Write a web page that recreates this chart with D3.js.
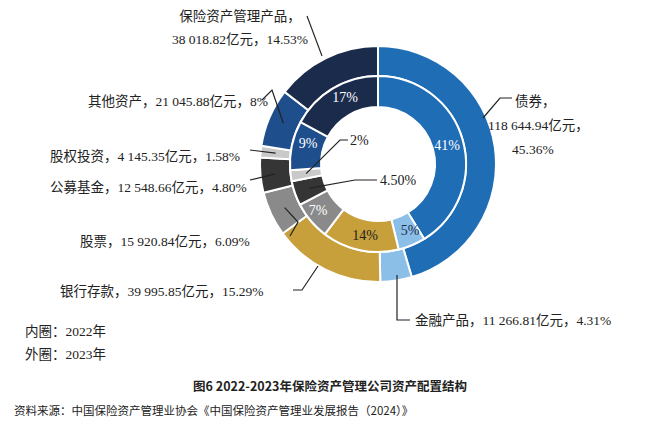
<!DOCTYPE html>
<html><head><meta charset="utf-8">
<script src="https://cdn.jsdelivr.net/npm/d3@7"></script>
<style>body{margin:0;background:#fff}text{font-family:"Liberation Serif","Noto Sans CJK SC",serif}</style>
</head><body><div id="wrapper"></div>
<script>
const categories = ["债券","金融产品","银行存款","股票","公募基金","股权投资","其他资产","保险资产管理产品"];
const outer2023 = [45.36,4.31,15.29,6.09,4.80,1.58,8,14.53];
const outerAmount = ["118 644.94","11 266.81","39 995.85","15 920.84","12 548.66","4 145.35","21 045.88","38 018.82"];
const inner2022 = [41,5,14,7,4.5,2,9,17];
const innerLabels = ["41%","5%","14%","7%","4.50%","2%","9%","17%"];
const colors = ["#1f6db5","#8cbfe8","#c7a03c","#8a8a8b","#353535","#c9c9c9","#1f4e8c","#1a2b4c"];

const W=660,H=435,cx=378,cy=164;
const svg=d3.select("#wrapper").append("svg").attr("width",W).attr("height",H);
const g=svg.append("g").attr("transform",`translate(${cx},${cy})`);
const pie=d3.pie().sort(null).value(d=>d);
const arcO=d3.arc().innerRadius(88).outerRadius(118);
const arcI=d3.arc().innerRadius(57).outerRadius(88);
const po=pie(outer2023), pi=pie(inner2022);
g.selectAll(".o").data(po).join("path").attr("d",arcO).attr("fill",(d,i)=>colors[i]).attr("stroke","#fff").attr("stroke-width",2);
g.selectAll(".i").data(pi).join("path").attr("d",arcI).attr("fill",(d,i)=>colors[i]).attr("stroke","#fff").attr("stroke-width",2);

// inner labels
const innerPos=[[447,150,"#fff"],[410,235,"#1a2b4c"],[365,240,"#222"],[318,215,"#fff"],[380,185,"#222"],[350,145,"#222"],[308,148,"#fff"],[345,102,"#fff"]];
innerPos.forEach((p,i)=>{
  svg.append("text").attr("x",p[0]).attr("y",p[1]).attr("text-anchor",i==4||i==5?"start":"middle")
    .attr("fill",p[2]).attr("font-size",14).text(innerLabels[i]);
});
// leaders for small inner slices
const lineC="#222";
function leader(pts){svg.append("polyline").attr("points",pts.map(p=>p.join(",")).join(" ")).attr("fill","none").attr("stroke",lineC).attr("stroke-width",1.2);}
function at(arcGen,d,k){const c=arcGen.centroid(d);return [cx+c[0]*k,cy+c[1]*k];}
leader([at(arcI,pi[5],1),[340,140],[348,140]]);
leader([at(arcI,pi[4],1),[355,180],[377,180]]);

// outer labels
const fs=13.5;
function txt(x,y,s,anchor){svg.append("text").attr("x",x).attr("y",y).attr("font-size",fs).attr("text-anchor",anchor||"start").attr("fill","#222").text(s);}
txt(240,21,"保险资产管理产品，","middle");
txt(240,44,`${outerAmount[7]}亿元，${outer2023[7]}%`,"middle");
leader([[307,16],[322,56]]);
txt(88,106,`${categories[6]}，${outerAmount[6]}亿元，${outer2023[6]}%`);
leader([[262,100],[272,90],[at(arcO,po[6],1)[0],at(arcO,po[6],1)[1]]]);
txt(50,161,`${categories[5]}，${outerAmount[5]}亿元，${outer2023[5].toFixed(2)}%`);
leader([[250,150],[at(arcO,po[5],1)[0],at(arcO,po[5],1)[1]]]);
txt(50,192,`${categories[4]}，${outerAmount[4]}亿元，${outer2023[4].toFixed(2)}%`);
leader([[250,180],[at(arcO,po[4],1)[0],at(arcO,po[4],1)[1]]]);
txt(80,246,`${categories[3]}，${outerAmount[3]}亿元，${outer2023[3]}%`);
leader([[290,236],[298,222],at(arcO,po[3],1)]);
txt(60,296,`${categories[2]}，${outerAmount[2]}亿元，${outer2023[2]}%`);
leader([[293,290],[302,290],[318,266]]);
txt(415,325,`${categories[1]}，${outerAmount[1]}亿元，${outer2023[1]}%`);
leader([[397,275],[397,320],[410,320]]);
txt(515,106,`${categories[0]}，`);
txt(488,130,`${outerAmount[0]}亿元，`);
txt(512,154,`${outer2023[0]}%`);
leader([[483,118],[500,98],[512,98]]);

txt(25,336,"内圈：2022年");
txt(25,359,"外圈：2023年");
svg.append("text").attr("x",330).attr("y",391).attr("text-anchor","middle").attr("font-size",12.5).attr("font-weight","bold")
  .style("font-family","'Noto Sans CJK SC',sans-serif").attr("fill","#222").text("图6 2022-2023年保险资产管理公司资产配置结构");
svg.append("text").attr("x",14).attr("y",415).attr("font-size",11.5).style("font-family","'Noto Sans CJK SC',sans-serif")
  .attr("fill","#222").text("资料来源：中国保险资产管理业协会《中国保险资产管理业发展报告（2024）》");
</script></body></html>
